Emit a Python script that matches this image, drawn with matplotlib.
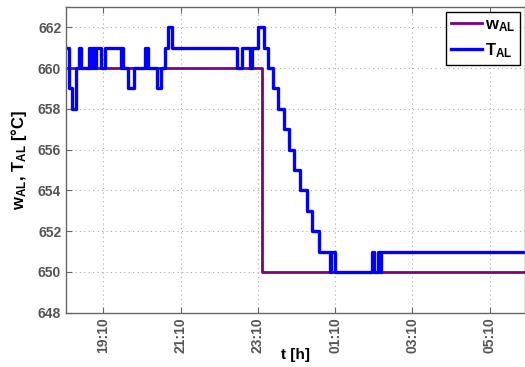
import numpy as np
import pandas as pd
import matplotlib
matplotlib.use("Agg")
import matplotlib.pyplot as plt
import matplotlib.dates as mdates

plt.rcParams['font.family'] = ['Liberation Sans', 'DejaVu Sans']
plt.rcParams['mathtext.fontset'] = 'custom'
plt.rcParams['mathtext.rm'] = 'Liberation Sans:bold'
plt.rcParams['mathtext.bf'] = 'Liberation Sans:bold'
plt.rcParams['mathtext.it'] = 'Liberation Sans:bold'

# measured aluminium temperature T_AL (step changes: time, value)
t_al_times = ["18:12", "18:16", "18:22", "18:28", "18:32", "18:36", "18:47", "18:49",
              "18:51", "18:53", "18:54", "18:57", "18:58", "19:07", "19:13", "19:37",
              "19:39", "19:41", "19:49", "19:58", "20:15", "20:17", "20:18", "20:20",
              "20:33", "20:39", "20:46", "20:51", "20:57", "22:37", "22:45", "22:58",
              "23:01", "23:10", "23:19", "23:26", "23:33", "23:42", "23:50", "23:59",
              "00:06", "00:16", "00:26", "00:34", "00:45", "01:02", "01:04", "01:10",
              "02:08", "02:10", "02:17", "02:19", "02:22", "06:05"]
t_al_values = [661, 659, 658, 660, 661, 660, 661, 660,
               661, 660, 661, 660, 661, 660, 661, 660,
               661, 660, 659, 660, 661, 660, 661, 660,
               659, 660, 661, 662, 661, 660, 661, 660,
               661, 662, 661, 660, 659, 658, 657, 656,
               655, 654, 653, 652, 651, 650, 651, 650,
               651, 650, 651, 650, 651, 651]

# set point w_AL
w_al_times = ["18:12", "23:17", "06:05"]
w_al_values = [660, 650, 650]

x_ticks = ["19:10", "21:10", "23:10", "01:10", "03:10", "05:10"]
x_range = ["18:12", "06:05"]


def to_datetime(times):
    # evening times on day 1, early-morning times on day 2
    out = []
    for s in times:
        hh = int(s.split(":")[0])
        day = "2013-01-01" if hh >= 12 else "2013-01-02"
        out.append(pd.Timestamp(day + " " + s))
    return out


fig = plt.figure(figsize=(5.25, 3.67), dpi=100)
ax = fig.add_axes([0.1257, 0.148, 0.8743, 0.833])

ax.plot(to_datetime(w_al_times), w_al_values, drawstyle="steps-post",
        color="#800080", lw=2.0, label=r"$\mathbf{w_{AL}}$")
ax.plot(to_datetime(t_al_times), t_al_values, drawstyle="steps-post",
        color="#0000ff", lw=2.4, label=r"$\mathbf{T_{AL}}$")

ax.set_xlim(to_datetime(x_range))
ax.set_ylim(648, 663)
ax.set_yticks(np.arange(648, 663, 2))
ax.set_xticks(to_datetime(x_ticks))
ax.xaxis.set_major_formatter(mdates.DateFormatter("%H:%M"))

ax.grid(True, linestyle=(0, (1, 3)), color="#aaaaaa", lw=0.8)
ax.tick_params(direction="in", top=True, right=False, length=4,
               color="#666666", labelcolor="#555555", labelsize=10)
for lab in ax.get_xticklabels():
    lab.set_rotation(90)
    lab.set_fontweight("bold")
for lab in ax.get_yticklabels():
    lab.set_fontweight("bold")
for sp in ax.spines.values():
    sp.set_color("#666666")
    sp.set_linewidth(1.0)

ax.set_xlabel("t [h]", fontsize=11, fontweight="bold")
ax.xaxis.set_label_coords(0.5, -0.115)
ax.xaxis.label.set_va("top")
ax.set_ylabel(r"$\mathbf{w_{AL}}$, $\mathbf{T_{AL}}$ [°C]", fontsize=12, fontweight="bold")
ax.yaxis.set_label_coords(-0.08, 0.5)

leg = ax.legend(loc="upper right", fontsize=12, handlelength=1.85,
                fancybox=False, framealpha=1, edgecolor="black",
                borderaxespad=0.2, labelspacing=0.45, handletextpad=0.2,
                borderpad=0.3, bbox_to_anchor=(0.997, 0.995))
leg.get_frame().set_linewidth(1.0)

fig.savefig("out.png", dpi=100)
